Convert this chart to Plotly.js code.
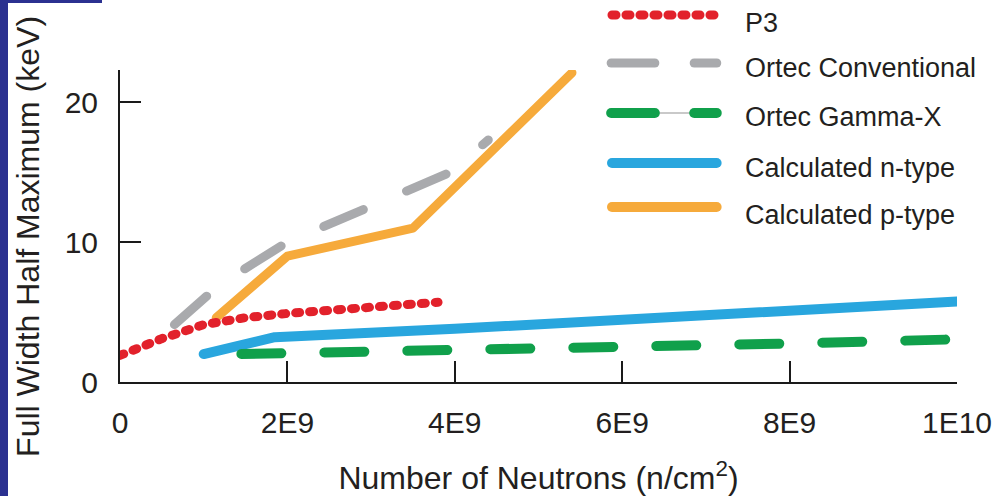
<!DOCTYPE html>
<html>
<head>
<meta charset="utf-8">
<script src="https://cdn.plot.ly/plotly-3.0.1.min.js"></script>
<style>
  html, body { margin:0; padding:0; background:#fff; }
  #wrap { position:relative; width:994px; height:496px; overflow:hidden; }
  #chart { width:994px; height:496px; }
  .frameL { position:absolute; left:0; top:0; width:8px; height:496px; background:#2b3190; }
  .frameT { position:absolute; left:0; top:0; width:102px; height:3px; background:#2b3190; }
  .scatterlayer path.js-line { stroke-linecap: round !important; stroke-linejoin: round !important; }
  .shapelayer path { stroke-linecap: round !important; }
</style>
</head>
<body>
<div id="wrap">
  <div id="chart"></div>
  <div class="frameL"></div>
  <div class="frameT"></div>
</div>
<script>
// ---- data ----
const seriesNames = ["P3", "Ortec Conventional", "Ortec Gamma-X", "Calculated n-type", "Calculated p-type"];

const p3X = [0, 0.5e9, 1e9, 1.5e9, 2e9, 3e9, 3.8e9];
const p3Y = [1.9, 3.1, 4.1, 4.6, 4.9, 5.3, 5.7];

const convX = [0.65e9, 1.2e9, 2e9, 3.5e9, 3.95e9, 4.4e9];
const convY = [4.1, 7.0, 10.0, 13.9, 15.0, 17.3];

const gammaX = [1.45e9, 2e9, 4e9, 6e9, 8e9, 10e9];
const gammaY = [2.0, 2.05, 2.25, 2.5, 2.75, 3.05];

const nTypeX = [1e9, 1.85e9, 4e9, 6e9, 8e9, 10e9];
const nTypeY = [2.0, 3.2, 3.8, 4.4, 5.1, 5.75];

const pTypeX = [1.15e9, 2e9, 3.5e9, 5.4e9];
const pTypeY = [4.6, 9.0, 11.0, 22.1];

const xTickVals = [0, 2e9, 4e9, 6e9, 8e9, 1e10];
const xTickText = ["0", "2E9", "4E9", "6E9", "8E9", "1E10"];
const yTickVals = [0, 10, 20];
const yTickText = ["0", "10", "20"];

const xTitle = "Number of Neutrons (n/cm<sup>2</sup>)";
const yTitle = "Full Width Half Maximum (keV)";

// ---- styles ----
const colors = { p3:"#e2212b", conv:"#a9aaad", gamma:"#10a04b", n:"#29a6de", p:"#f6aa3b" };
const FONT = "Liberation Sans, Arial, Helvetica, sans-serif";
const TXT = "#231f20";

const traces = [
  { x:nTypeX, y:nTypeY, name:seriesNames[3], mode:"lines", line:{color:colors.n, width:10} },
  { x:gammaX, y:gammaY, name:seriesNames[2], mode:"lines", line:{color:colors.gamma, width:10, dash:"40px,43px"} },
  { x:pTypeX, y:pTypeY, name:seriesNames[4], mode:"lines", line:{color:colors.p, width:9} },
  { x:convX, y:convY, name:seriesNames[1], mode:"lines", line:{color:colors.conv, width:9, dash:"43px,47px"} },
  { x:p3X, y:p3Y, name:seriesNames[0], mode:"lines", line:{color:colors.p3, width:9, dash:"4px,10px"} }
];

// custom legend (paper coordinates)
const legX0 = 0.5818, legX1 = 0.7168, legTextX = 0.7443;
const legRows = [1.1763, 1.0224, 0.8622, 0.7019, 0.5609];
const legTextRows = [1.150, 1.008, 0.848, 0.686, 0.536];
const segA = [0.5818, 0.6440], segB = [0.6810, 0.7130];

const shapes = [
  {type:"line", xref:"paper", yref:"paper", x0:legX0+0.006, x1:legX1-0.006, y0:legRows[0], y1:legRows[0], line:{color:colors.p3, width:9, dash:"4px,10px"}},
  {type:"line", xref:"paper", yref:"paper", x0:segA[0]+0.005, x1:segA[1]-0.005, y0:legRows[1], y1:legRows[1], line:{color:colors.conv, width:9}},
  {type:"line", xref:"paper", yref:"paper", x0:segB[0]+0.005, x1:segB[1], y0:legRows[1], y1:legRows[1], line:{color:colors.conv, width:9}},
  {type:"line", xref:"paper", yref:"paper", x0:segA[1], x1:segB[0], y0:legRows[2], y1:legRows[2], line:{color:"#c9c9c9", width:2}},
  {type:"line", xref:"paper", yref:"paper", x0:segA[0]+0.005, x1:segA[1]-0.005, y0:legRows[2], y1:legRows[2], line:{color:colors.gamma, width:10}},
  {type:"line", xref:"paper", yref:"paper", x0:segB[0]+0.005, x1:segB[1], y0:legRows[2], y1:legRows[2], line:{color:colors.gamma, width:10}},
  {type:"line", xref:"paper", yref:"paper", x0:legX0+0.006, x1:legX1-0.004, y0:legRows[3], y1:legRows[3], line:{color:colors.n, width:10}},
  {type:"line", xref:"paper", yref:"paper", x0:legX0+0.006, x1:legX1-0.004, y0:legRows[4], y1:legRows[4], line:{color:colors.p, width:10}}
];

const annotations = seriesNames.map((nm, i) => ({
  xref:"paper", yref:"paper", x:legTextX, y:legTextRows[i], xanchor:"left", yanchor:"middle",
  text:nm, showarrow:false, font:{family:FONT, size:27, color:TXT}
}));
annotations.push({
  xref:"paper", yref:"paper", x:-0.110, y:0.468, xanchor:"center", yanchor:"middle",
  textangle:-90, text:yTitle, showarrow:false, font:{family:FONT, size:32, color:TXT}
});

const layout = {
  width:994, height:496,
  margin:{l:120, r:37, t:70, b:114},
  paper_bgcolor:"#ffffff", plot_bgcolor:"#ffffff",
  showlegend:false,
  font:{family:FONT, color:TXT},
  xaxis:{
    range:[0, 1e10], tickvals:xTickVals, ticktext:xTickText,
    showgrid:false, zeroline:false, showline:true, linecolor:"#1a1a1a", linewidth:2,
    ticks:"inside", ticklen:21, tickwidth:2, tickcolor:"#1a1a1a",
    ticklabelstandoff:13,
    tickfont:{family:FONT, size:30, color:TXT},
    title:{text:xTitle, font:{family:FONT, size:32, color:TXT}, standoff:30}
  },
  yaxis:{
    range:[0, 22.3], tickvals:yTickVals, ticktext:yTickText,
    showgrid:false, zeroline:false, showline:true, linecolor:"#1a1a1a", linewidth:2,
    ticks:"inside", ticklen:21, tickwidth:2, tickcolor:"#1a1a1a",
    ticklabelstandoff:14,
    tickfont:{family:FONT, size:30, color:TXT}
  },
  shapes:shapes,
  annotations:annotations
};

function roundCaps() {
  document.querySelectorAll("#chart path.js-line, #chart .shapelayer path").forEach(p => {
    p.style.strokeLinecap = "round";
    p.style.strokeLinejoin = "round";
  });
}
Plotly.newPlot("chart", traces, layout, {displayModeBar:false, staticPlot:true}).then(roundCaps);
</script>
</body>
</html>
